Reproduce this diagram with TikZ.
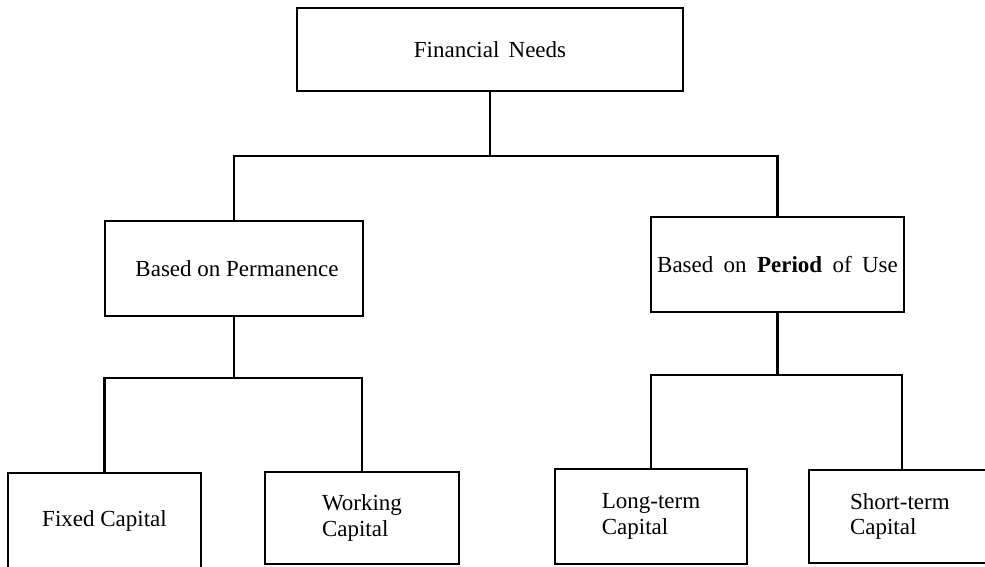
\documentclass[tikz,border=0pt]{standalone}
\usepackage{fontspec}
\setmainfont{Liberation Serif}
\begin{document}
\begin{tikzpicture}[x=1pt,y=-1pt,
  box/.style={draw=black,line width=2.2pt,inner sep=0pt,align=left,
    font=\fontsize{23}{25.5}\selectfont},
  link/.style={draw=black,line width=2.2pt}]
\useasboundingbox (0,0) rectangle (985,566);
\clip (0,0) rectangle (985,566);

% boxes
\node[box,minimum width=386pt,minimum height=83pt] (fin) at (490,49.5) {\raisebox{-2pt}{Financial\hspace{0.4em}Needs}};
\node[box,minimum width=258pt,minimum height=95pt] (perm) at (234,268.5) {\raisebox{-4pt}{\hspace{6pt}Based on Permanence}};
\node[box,minimum width=253pt,minimum height=95pt] (period) at (777.5,264.5)
  {\raisebox{-5pt}{Based\hspace{0.45em}on\hspace{0.45em}\textbf{Period}\hspace{0.45em}of\hspace{0.45em}Use}};
\node[box,minimum width=193pt,minimum height=96pt] (fixed) at (104.5,521) {Fixed Capital};
\node[box,minimum width=194pt,minimum height=92pt] (working) at (362,518) {Working\\Capital};
\node[box,minimum width=192pt,minimum height=95pt] (long) at (651,516.5) {Long-term\\Capital};
\node[box,minimum width=186pt,minimum height=93pt,text width=104pt] (short) at (902,516.5) {Short-term\\Capital};

% junction levels
\coordinate (j1) at (490,156);
\coordinate (j2) at (234,378);
\coordinate (j3) at (777.5,375);

% connectors
\draw[link] (fin.south) -- (j1);
\draw[link] (perm.north) -- (perm.north |- j1) -- (period.north |- j1) -- (period.north);
\draw[link] (perm.south) -- (j2);
\draw[link] (fixed.north) -- (fixed.north |- j2) -- (working.north |- j2) -- (working.north);
\draw[link] (period.south) -- (j3);
\draw[link] (long.north) -- (long.north |- j3) -- (short.north |- j3) -- (short.north);
\end{tikzpicture}
\end{document}
